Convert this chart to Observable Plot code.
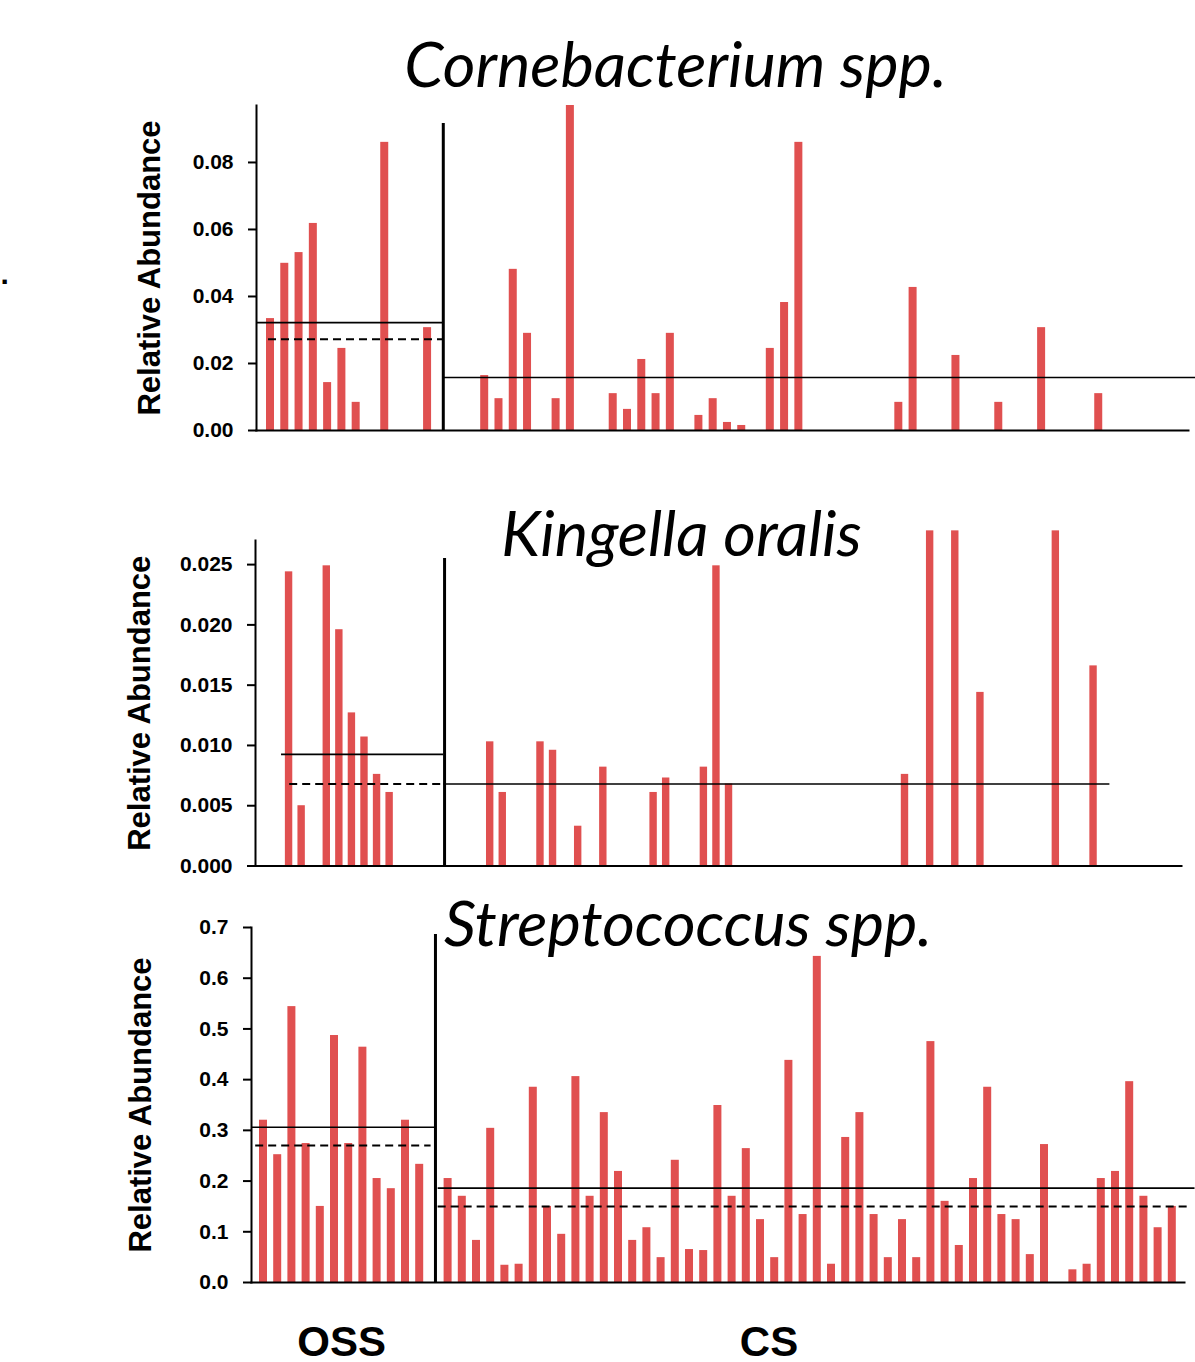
<!DOCTYPE html>
<html><head><meta charset="utf-8">
<script src="https://cdn.jsdelivr.net/npm/d3@7"></script>
<script src="https://cdn.jsdelivr.net/npm/@observablehq/plot@0.6"></script>
<style>
body{margin:0;background:#fff;}
#chart svg{display:block;}
</style>
</head><body><div id="chart"></div>
<script>
// ---------------- DATA ----------------
const titles = ["Cornebacterium spp.", "Kingella oralis", "Streptococcus spp."];
const yLabel = "Relative Abundance";
const groupLabels = ["OSS", "CS"];

// Cornebacterium spp.
const cornOSS = [0.0334, 0.0499, 0.0531, 0.0618, 0.0143, 0.0245, 0.0084, 0, 0.086, 0, 0, 0.0307];
const cornCS = [0, 0, 0.0164, 0.0095, 0.0481, 0.029, 0, 0.0095, 0.097, 0,
  0, 0.011, 0.0063, 0.0212, 0.011, 0.029, 0, 0.0045, 0.0095, 0.0024,
  0.0015, 0, 0.0245, 0.0382, 0.086, 0, 0, 0, 0, 0,
  0, 0.0084, 0.0427, 0, 0, 0.0224, 0, 0, 0.0084, 0,
  0, 0.0307, 0, 0, 0, 0.011, 0, 0, 0, 0,
  0, 0];
const cornOSSMean = 0.0322, cornOSSMedian = 0.0272, cornCSMean = 0.0158;
const cornTicks = [0, 0.02, 0.04, 0.06, 0.08];

// Kingella oralis
const kingOSS = [0, 0.0244, 0.0050, 0, 0.0249, 0.0196, 0.0127, 0.0107, 0.0076, 0.0061, 0, 0];
const kingCS = [0, 0, 0, 0.0103, 0.0061, 0, 0, 0.0103, 0.0096, 0,
  0.0033, 0, 0.0082, 0, 0, 0, 0.0061, 0.0073, 0, 0,
  0.0082, 0.0249, 0.0068, 0, 0, 0, 0, 0, 0, 0,
  0, 0, 0, 0, 0, 0, 0.0076, 0, 0.0278, 0,
  0.0278, 0, 0.0144, 0, 0, 0, 0, 0, 0.0278, 0,
  0, 0.0166];
const kingOSSMean = 0.00926, kingOSSMedian = 0.0068, kingCSMean = 0.0068;
const kingTicks = [0, 0.005, 0.010, 0.015, 0.020, 0.025];

// Streptococcus spp.
const strepOSS = [0.320, 0.252, 0.544, 0.274, 0.150, 0.487, 0.274, 0.464, 0.205, 0.185, 0.320, 0.233];
const strepCS = [0.205, 0.170, 0.083, 0.304, 0.034, 0.036, 0.385, 0.150, 0.095, 0.406,
  0.170, 0.335, 0.219, 0.083, 0.108, 0.049, 0.241, 0.065, 0.063, 0.349,
  0.170, 0.264, 0.124, 0.049, 0.438, 0.134, 0.643, 0.036, 0.286, 0.335,
  0.134, 0.049, 0.124, 0.049, 0.475, 0.160, 0.073, 0.205, 0.385, 0.134,
  0.124, 0.055, 0.272, 0, 0.025, 0.036, 0.205, 0.219, 0.396, 0.170,
  0.108, 0.150];
const strepOSSMean = 0.306, strepOSSMedian = 0.270, strepCSMean = 0.186, strepCSMedian = 0.150;
const strepTicks = [0, 0.1, 0.2, 0.3, 0.4, 0.5, 0.6, 0.7];

// ---------------- LAYOUT ----------------
const RED = "#e05050";
const panels = [
  {
    title: titles[0], oss: cornOSS, cs: cornCS, gap: 1,
    height: 470, marginTop: 105, marginBottom: 40, marginLeft: 256, marginRight: 7,
    x0: 270, step: 14.28, barWidth: 8, yMax: 0.097, ticks: cornTicks, fmt: ".2f",
    solid: [{y: cornOSSMean, x1: -0.98, x2: 12.1}, {y: cornCSMean, x1: 12.1, x2: 64.8}],
    dashed: [{y: cornOSSMedian, x1: -0.14, x2: 12.1}],
    divider: {x: 12.1, top: 0.0916},
    titleDx: -47, titleDy: -19, labelDx: -106
  },
  {
    title: titles[1], oss: kingOSS, cs: kingCS, gap: 2,
    height: 420, marginTop: 70, marginBottom: 24.5, marginLeft: 255, marginRight: 14,
    x0: 276, step: 12.57, barWidth: 7.4, yMax: 0.027, ticks: kingTicks, fmt: ".3f",
    solid: [{y: kingOSSMean, x1: 0.4, x2: 13.3}, {y: kingCSMean, x1: 13.3, x2: 66.3}],
    dashed: [{y: kingOSSMedian, x1: 1.05, x2: 13.3}],
    divider: {x: 13.37, top: 0.0255},
    titleDx: -37, titleDy: 15, labelDx: -115
  },
  {
    title: titles[2], oss: strepOSS, cs: strepCS, gap: 1,
    height: 472, marginTop: 37, marginBottom: 80, marginLeft: 251, marginRight: 11,
    x0: 263, step: 14.2, barWidth: 8, yMax: 0.7, ticks: strepTicks, fmt: ".1f",
    solid: [{y: strepOSSMean, x1: -0.8, x2: 12.1}, {y: strepCSMean, x1: 12.3, x2: 65.6}],
    dashed: [{y: strepOSSMedian, x1: -0.55, x2: 11.8}, {y: strepCSMedian, x1: 12.3, x2: 65.3}],
    divider: {x: 12.11, top: 0.686},
    titleDx: -30, titleDy: 18, labelDx: -110,
    groupLabelSlots: [5.5, 35.6]
  }
];

function makePanel(cfg, idx) {
  const csStart = cfg.oss.length + cfg.gap;
  const lastSlot = csStart + cfg.cs.length - 1;
  const bars = [
    ...cfg.oss.map((v, i) => ({slot: i, v, group: "OSS"})),
    ...cfg.cs.map((v, j) => ({slot: csStart + j, v, group: "CS"}))
  ];
  const inset = (cfg.step - cfg.barWidth) / 2;
  const marks = [
    Plot.rect(bars, {
      x1: d => d.slot - 0.5, x2: d => d.slot + 0.5, y1: 0, y2: "v",
      fill: RED, insetLeft: inset, insetRight: inset
    }),
    Plot.ruleY(cfg.solid, {y: "y", x1: "x1", x2: "x2", stroke: "black", strokeWidth: 1.6}),
    Plot.ruleY(cfg.dashed, {y: "y", x1: "x1", x2: "x2", stroke: "black", strokeWidth: 2, strokeDasharray: "8,5"}),
    Plot.ruleX([cfg.divider], {x: "x", y1: 0, y2: "top", stroke: "black", strokeWidth: 3}),
    Plot.frame({anchor: "left", stroke: "black", strokeWidth: 2}),
    Plot.frame({anchor: "bottom", stroke: "black", strokeWidth: 2}),
    Plot.axisY({
      ticks: cfg.ticks, tickFormat: d3.format(cfg.fmt), tickSize: 8, tickPadding: 15,
      fontSize: 21, fontWeight: "bold", strokeWidth: 2, label: null, stroke: "black", fill: "black"
    }),
    Plot.text([cfg.title], {
      text: d => d, frameAnchor: "top", textAnchor: "middle", dx: cfg.titleDx, dy: cfg.titleDy, lineAnchor: "bottom",
      fontSize: 63, fontStyle: "italic", fontFamily: "Lato", fill: "black"
    }),
    Plot.text([yLabel], {
      text: d => d, frameAnchor: "left", textAnchor: "middle", lineAnchor: "middle", rotate: -90, dx: cfg.labelDx,
      fontSize: 31, fontWeight: "bold", fontFamily: "Liberation Sans", fill: "black"
    })
  ];
  if (idx === 0) {
    marks.push(Plot.text(["."], {
      text: d => d, frameAnchor: "top-left", dx: -256, dy: 178, lineAnchor: "bottom",
      textAnchor: "start", fontSize: 30, fontWeight: "bold", fill: "black"
    }));
  }
  if (cfg.groupLabelSlots) {
    marks.push(Plot.text(groupLabels, {
      x: (d, i) => cfg.groupLabelSlots[i], text: d => d, frameAnchor: "bottom", textAnchor: "middle",
      dy: 73, lineAnchor: "bottom", fontSize: 42, fontWeight: "bold",
      fontFamily: "Liberation Sans", fill: "black"
    }));
  }
  return Plot.plot({
    width: 1195, height: cfg.height,
    marginTop: cfg.marginTop, marginBottom: cfg.marginBottom,
    marginLeft: cfg.marginLeft, marginRight: cfg.marginRight,
    style: {fontFamily: "Liberation Sans, Arial, sans-serif", color: "black", background: "white", overflow: "visible"},
    x: {type: "linear", domain: [0, lastSlot], range: [cfg.x0, cfg.x0 + lastSlot * cfg.step], axis: null},
    y: {domain: [0, cfg.yMax], axis: null},
    marks
  });
}

const root = document.getElementById("chart");
panels.forEach((cfg, i) => root.appendChild(makePanel(cfg, i)));
</script>
</body></html>
